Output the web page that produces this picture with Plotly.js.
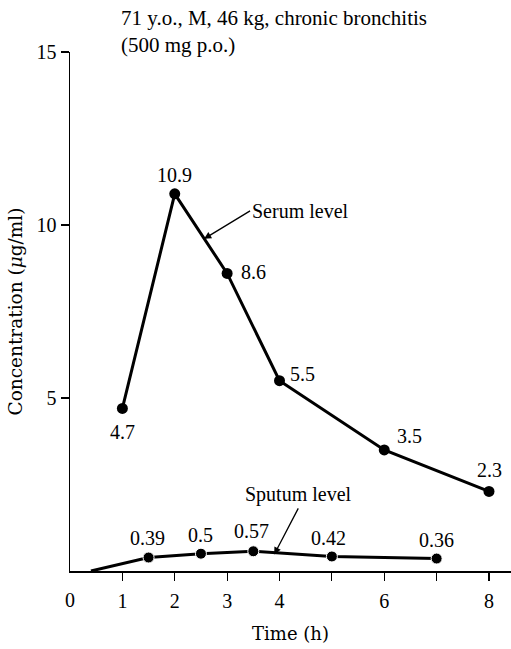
<!DOCTYPE html>
<html>
<head>
<meta charset="utf-8">
<script src="https://cdn.plot.ly/plotly-3.0.1.min.js"></script>
<style>html,body{margin:0;padding:0;background:#fff;}#chart{width:511px;height:649px;}</style>
</head>
<body>
<div id="chart"></div>
<script>
const serumTime = [1, 2, 3, 4, 6, 8];
const serumConc = [4.7, 10.9, 8.6, 5.5, 3.5, 2.3];
const sputumTime = [0.4, 1.5, 2.5, 3.5, 5, 7];
const sputumConc = [0, 0.39, 0.5, 0.57, 0.42, 0.36];
const sputumLabels = ["", "0.39", "0.5", "0.57", "0.42", "0.36"];
const xTickVals = [1, 2, 3, 4, 5, 6, 7, 8];
const xTickText = ["1", "2", "3", "4", "", "6", "", "8"];
const yTickVals = [5, 10, 15];
const yTickText = ["5", "10", "15"];

const font = "Liberation Serif, Times New Roman, serif";
const font2 = "DejaVu Serif, serif";
// label offsets (style), in px
const serumShift = [[0, -24], [0, 19], [26, 1], [23, 7], [25, 14], [0, 21]];
const sputumShift = [[0, 0], [-1, 20], [0, 19], [-2, 20], [-3, 18], [0, 19]];

const annotations = [];
serumTime.forEach((t, i) => {
  annotations.push({x: t, y: serumConc[i], xref: 'x', yref: 'y', text: String(serumConc[i]),
    showarrow: false, xshift: serumShift[i][0], yshift: serumShift[i][1],
    font: {family: font, size: 20, color: '#000'}});
});
sputumTime.forEach((t, i) => {
  if (!sputumLabels[i]) return;
  annotations.push({x: t, y: sputumConc[i], xref: 'x', yref: 'y', text: sputumLabels[i],
    showarrow: false, xshift: sputumShift[i][0], yshift: sputumShift[i][1],
    font: {family: font, size: 20, color: '#000'}});
});
annotations.push({x: 2.56, y: 9.6, xref: 'x', yref: 'y', text: 'Serum level', showarrow: true,
  ax: 46, ay: -28, xanchor: 'left', arrowhead: 2, arrowsize: 1.1, arrowwidth: 1.3, arrowcolor: '#000', standoff: 0,
  font: {family: font, size: 20, color: '#000'}});
annotations.push({x: 3.9, y: 0.48, xref: 'x', yref: 'y', text: 'Sputum level', showarrow: true,
  ax: 24, ay: -46, yanchor: 'bottom', arrowhead: 2, arrowsize: 1.1, arrowwidth: 1.3, arrowcolor: '#000', standoff: 0,
  font: {family: font, size: 20, color: '#000'}});
annotations.push({x: 0, y: 0, xref: 'x', yref: 'y', text: '0', showarrow: false, yshift: -29,
  font: {family: font, size: 20, color: '#000'}});
annotations.push({xref: 'paper', yref: 'paper', x: 49 / 441, y: 1 + 48 / 519, xanchor: 'left', yanchor: 'top',
  align: 'left', showarrow: false,
  text: '71 y.o., M, 46 kg, chronic bronchitis<br>(500 mg p.o.)',
  font: {family: font, size: 21, color: '#000'}});

const traces = [
  {x: serumTime, y: serumConc, mode: 'lines+markers', type: 'scatter',
   line: {color: '#000', width: 3}, marker: {color: '#000', size: 11, opacity: 1}, cliponaxis: false},
  {x: sputumTime, y: sputumConc, mode: 'lines+markers', type: 'scatter',
   line: {color: '#000', width: 3},
   marker: {color: '#000', opacity: 1, size: sputumTime.map((t, i) => i === 0 ? 0 : 11)}, cliponaxis: false}
];

const layout = {
  width: 511, height: 649,
  margin: {l: 70, r: 0, t: 52, b: 78},
  paper_bgcolor: '#fff', plot_bgcolor: '#fff',
  showlegend: false,
  font: {family: font, size: 20, color: '#000'},
  xaxis: {range: [0, 8.42], tickvals: xTickVals, ticktext: xTickText, ticks: 'outside', ticklen: 8,
    tickwidth: 1.2, tickcolor: '#000', showline: true, linecolor: '#000', linewidth: 1.5,
    showgrid: false, zeroline: false, ticklabelstandoff: 3,
    tickfont: {family: font, size: 20},
    title: {text: 'Time (h)', font: {family: font2, size: 18}, standoff: 17}},
  yaxis: {range: [0, 15], tickvals: yTickVals, ticktext: yTickText, ticks: 'outside', ticklen: 8,
    tickwidth: 1.2, tickcolor: '#000', showline: true, linecolor: '#000', linewidth: 1.5,
    showgrid: false, zeroline: false, tickfont: {family: font, size: 20},
    title: {text: 'Concentration (<i>μ</i>g/ml)', font: {family: font2, size: 18.5}, standoff: 9}},
  annotations: annotations
};

Plotly.newPlot('chart', traces, layout, {displayModeBar: false, staticPlot: true});
</script>
</body>
</html>
